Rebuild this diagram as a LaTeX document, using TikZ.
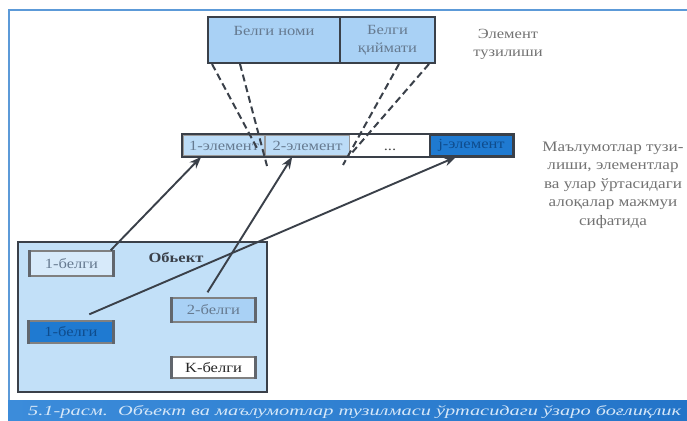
\documentclass[tikz,border=0pt]{standalone}
\usepackage{fontspec}
\setmainfont{Liberation Serif}
\usetikzlibrary{arrows.meta}
\definecolor{lb}{HTML}{A9D1F5}
\definecolor{lbc}{HTML}{BCDCF7}
\definecolor{objc}{HTML}{C2E0F8}
\definecolor{db}{HTML}{1F7AD1}
\definecolor{bord}{HTML}{3A4049}
\definecolor{frm}{HTML}{5C9AD8}
\definecolor{gtxt}{HTML}{667A90}
\definecolor{dtxt}{HTML}{0F4C8C}
\definecolor{capl}{HTML}{3C8CDA}
\definecolor{capr}{HTML}{2374C8}
\definecolor{capt}{HTML}{D5E7F8}
\newcommand{\hs}[1]{\scalebox{1.18}[1]{#1}}
\tikzset{
  cellbox/.style={draw=bord, line width=2pt, inner sep=0pt},
  txt/.style={font=\fontsize{14}{18}\selectfont, text=gtxt, inner sep=0pt, align=center},
  sidebar/.style={draw=bord!80, line width=3pt},
  dashln/.style={draw=bord, line width=2pt, dash pattern=on 7pt off 4pt},
  arr/.style={draw=bord, line width=1.9pt, -{Stealth[length=12pt,width=9pt]}},
}
\begin{document}
\begin{tikzpicture}[x=1pt,y=-1pt]
\clip (0,0) rectangle (687,420);
\fill[white] (0,0) rectangle (687,420);
% frame
\draw[frm, line width=2.4pt] (9,400) -- (9,10) -- (687,10);
% top structure box
\node[cellbox, fill=lb, minimum width=132pt, minimum height=46pt] (bn) at (274,40) {};
\node[cellbox, fill=lb, minimum width=95pt, minimum height=46pt] (bq) at (387.5,40) {};
\node[txt] (bnt) at (274,31) {\hs{Белги номи}};
\node[txt] (bqt) at (387.5,40) {\hs{Белги}\\\hs{қиймати}};
\node[txt, text=black!55] (elt) at (508,44) {\hs{Элемент}\\\hs{тузилиши}};
% element row
\node[cellbox, draw=gray!80, line width=1.6pt, fill=lbc, minimum width=82pt, minimum height=21pt] (e1) at (224,145.5) {};
\node[cellbox, draw=gray!80, line width=1.6pt, fill=lbc, minimum width=85pt, minimum height=21pt] (e2) at (307.5,145.5) {};
\node[inner sep=0pt, fill=white, minimum width=80pt, minimum height=21pt] (e3) at (390,145.5) {};
\node[cellbox, fill=db, minimum width=83pt, minimum height=21pt] (ej) at (471.5,145.5) {};
\draw[bord, line width=2pt] (e1.north west) rectangle (ej.south east);
\node[txt] (e1t) at (e1) {\hs{1-элемент}};
\node[txt] (e2t) at (e2) {\hs{2-элемент}};
\node[txt, text=black!70] (e3t) at ([yshift=-4pt]e3) {\hs{...}};
\node[txt, text=dtxt] (ejt) at (ej) {\hs{j-элемент}};
% dashed lines
\coordinate (dA) at (258,150);
\coordinate (dB) at (267,166);
\coordinate (dC) at (343,165);
\coordinate (dD) at (350,155);
\draw[dashln] ([xshift=5pt]bn.south west) -- (dA);
\draw[dashln] ([xshift=33pt]bn.south west) -- (dB);
\draw[dashln] ([xshift=-37pt]bq.south east) -- (dC);
\draw[dashln] ([xshift=-7pt]bq.south east) -- (dD);
% right description
\node[txt, text=black!55, font=\fontsize{14.5}{18.5}\selectfont] (desc) at (613,185)
  {\hs{Маълумотлар тузи-}\\\hs{лиши, элементлар}\\\hs{ва улар ўртасидаги}\\\hs{алоқалар мажмуи}\\\hs{сифатида}};
% object box
\node[cellbox, fill=objc, minimum width=249pt, minimum height=150pt] (obj) at (142.5,317) {};
\node[txt, text=bord, font=\bfseries\fontsize{14}{18}\selectfont] (objt) at (176,258) {\hs{Обьект}};
\node[cellbox, draw=gray, line width=1.4pt, fill=lbc!60!white, minimum width=83pt, minimum height=25pt] (b1) at (71.5,263.5) {};
\node[cellbox, draw=gray, line width=1.4pt, fill=lb, minimum width=83pt, minimum height=24pt] (b2) at (213.5,310) {};
\node[cellbox, draw=gray, line width=1.4pt, fill=db, minimum width=84pt, minimum height=22pt] (bd) at (71,332) {};
\node[cellbox, draw=gray, line width=1.4pt, fill=white, minimum width=83pt, minimum height=21pt] (bk) at (213.5,367.5) {};
\foreach \b in {b1,b2,bd,bk}{
  \draw[sidebar] (\b.north west) -- (\b.south west);
  \draw[sidebar] (\b.north east) -- (\b.south east);
}
\node[txt] (b1t) at (b1) {\hs{1-белги}};
\node[txt] (b2t) at (b2) {\hs{2-белги}};
\node[txt, text=dtxt] (bdt) at (bd) {\hs{1-белги}};
\node[txt, text=black!85] (bkt) at (bk) {\hs{K-белги}};
% arrows
\draw[arr] ([xshift=-3pt]b1.north east) -- ([xshift=19pt]e1.south west);
\draw[arr] ([shift={(-6pt,5pt)}]b2.north) -- ([xshift=28pt]e2.south west);
\draw[arr] ([shift={(61pt,6pt)}]bd.north west) -- ([xshift=27pt]ej.south west);
% caption band
\shade[left color=capl, right color=capr] (8,400) rectangle (687,420);
\node[anchor=base west, inner sep=0pt, text=capt, font=\itshape\fontsize{14}{16}\selectfont] (cap) at (28,415)
  {\scalebox{1.455}[1]{5.1-расм.\ \ Объект ва маълумотлар тузилмаси ўртасидаги ўзаро боғлиқлик}};
\end{tikzpicture}
\end{document}
